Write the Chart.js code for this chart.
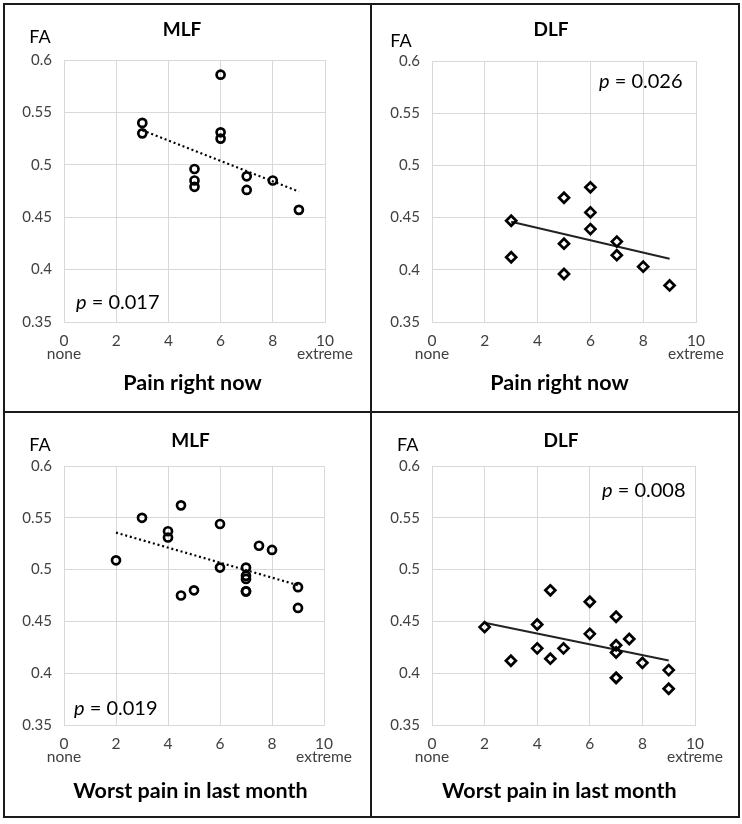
<!DOCTYPE html>
<html>
<head>
<meta charset="utf-8">
<script src="https://cdn.jsdelivr.net/npm/chart.js@4.4.1/dist/chart.umd.min.js"></script>
<style>
  body { margin: 0; background: #fff; }
  #wrap { position: relative; width: 742px; height: 824px; }
  canvas { position: absolute; }
  .rule { position: absolute; background: #1a1a1a; }
  #frame { position: absolute; left: 3px; top: 3px; width: 737px; height: 815px; border: 2px solid #1a1a1a; box-sizing: border-box; }
</style>
</head>
<body>
<div id="wrap">
  <canvas id="c1" width="371" height="412" style="left:0;top:0"></canvas>
  <canvas id="c2" width="371" height="412" style="left:371px;top:0"></canvas>
  <canvas id="c3" width="371" height="412" style="left:0;top:412px"></canvas>
  <canvas id="c4" width="371" height="412" style="left:371px;top:412px"></canvas>
  <div id="frame"></div>
  <div class="rule" style="left:370px;top:3px;width:2px;height:815px"></div>
  <div class="rule" style="left:3px;top:411px;width:737px;height:2px"></div>
</div>
<script>
// axis ticks
const xTicks = [0, 2, 4, 6, 8, 10];
const xTickText = [['0', 'none'], '2', '4', '6', '8', ['10', 'extreme']];
const yTicks = [0.35, 0.4, 0.45, 0.5, 0.55, 0.6];
const yTickText = ['0.35', '0.4', '0.45', '0.5', '0.55', '0.6'];

// Pain right now (top row)
const nowPain = [3, 3, 5, 5, 5, 6, 6, 6, 7, 7, 8, 9];
const nowMLF = [0.540, 0.530, 0.496, 0.485, 0.479, 0.586, 0.531, 0.525, 0.489, 0.476, 0.485, 0.457];
const nowDLF = [0.447, 0.412, 0.469, 0.425, 0.396, 0.479, 0.455, 0.439, 0.427, 0.414, 0.403, 0.385];
const nowTrendX = [3, 9];
const nowTrendMLF = [0.533, 0.4745];
const nowTrendDLF = [0.446, 0.4105];

// Worst pain in last month (bottom row)
const worstPain = [2, 3, 4, 4, 4.5, 4.5, 5, 6, 6, 7, 7, 7, 7, 7, 7.5, 8, 9, 9];
const worstMLF = [0.509, 0.550, 0.537, 0.531, 0.562, 0.475, 0.480, 0.544, 0.502, 0.502, 0.494, 0.491, 0.479, 0.479, 0.523, 0.519, 0.483, 0.463];
const worstDLF = [0.4445, 0.412, 0.447, 0.424, 0.480, 0.414, 0.424, 0.469, 0.438, 0.4545, 0.427, 0.420, 0.3955, 0.3955, 0.433, 0.410, 0.403, 0.385];
const worstTrendX = [2, 9];
const worstTrendMLF = [0.5357, 0.485];
const worstTrendDLF = [0.4487, 0.4123];

const FONT = 'Lato, "Open Sans", sans-serif';

function pts(xs, ys) {
  return xs.map((x, i) => ({ x: x, y: ys[i] }));
}

// draws panel title, "FA", p value and x-axis name
const panelText = {
  id: 'panelText',
  afterDraw(chart, args, o) {
    const ctx = chart.ctx;
    ctx.save();
    ctx.fillStyle = '#000';
    ctx.textBaseline = 'middle';
    ctx.textAlign = 'center';
    ctx.font = 'bold 19px ' + FONT;
    ctx.fillText(o.title, o.titlePos[0], o.titlePos[1]);
    ctx.font = '18px ' + FONT;
    ctx.fillText('FA', o.faPos[0], o.faPos[1]);
    ctx.font = 'bold 21.5px ' + FONT;
    ctx.fillText(o.xName, o.xNamePos[0], o.xNamePos[1]);
    ctx.textAlign = 'left';
    ctx.font = 'italic 20px ' + FONT;
    ctx.fillText('p', o.pPos[0], o.pPos[1]);
    const w = ctx.measureText('p').width;
    ctx.font = '20px ' + FONT;
    ctx.fillText(' = ' + o.p, o.pPos[0] + w, o.pPos[1]);
    ctx.restore();
  }
};

function makeChart(id, xs, ys, tx, ty, shape, dotted, pad, text) {
  const ctx = document.getElementById(id).getContext('2d');
  return new Chart(ctx, {
    type: 'scatter',
    data: {
      datasets: [
        {
          data: pts(xs, ys),
          pointStyle: shape,
          pointRadius: shape === 'circle' ? 4 : 5,
          borderColor: '#000',
          backgroundColor: 'rgba(0,0,0,0)',
          pointBorderWidth: 2.7
        },
        {
          data: pts(tx, ty),
          showLine: true,
          pointRadius: 0,
          borderColor: dotted ? '#000' : '#222',
          borderWidth: dotted ? 2.2 : 2,
          borderDash: dotted ? [2, 2.8] : []
        }
      ]
    },
    options: {
      responsive: false,
      animation: false,
      layout: { padding: pad },
      plugins: {
        legend: { display: false },
        tooltip: { enabled: false },
        panelText: text
      },
      scales: {
        x: {
          type: 'linear',
          min: 0, max: 10,
          afterFit: s => { s.height = 40; },
          afterBuildTicks: s => { s.ticks = xTicks.map(v => ({ value: v })); },
          grid: { color: '#d9d9d9', drawTicks: false },
          border: { color: '#d9d9d9' },
          ticks: {
            padding: 12,
            autoSkip: false,
            maxRotation: 0,
            color: '#404040',
            font: { family: FONT, size: 15.5, lineHeight: 0.85 },
            callback: (v, i) => xTickText[i]
          }
        },
        y: {
          min: 0.35, max: 0.6,
          afterFit: s => { s.width = 50; },
          afterBuildTicks: s => { s.ticks = yTicks.map(v => ({ value: v })); },
          grid: { color: '#d9d9d9', drawTicks: false },
          border: { color: '#d9d9d9' },
          ticks: {
            padding: 12,
            color: '#404040',
            font: { family: FONT, size: 15 },
            callback: (v, i) => yTickText[i]
          }
        }
      }
    },
    plugins: [panelText]
  });
}

makeChart('c1', nowPain, nowMLF, nowTrendX, nowTrendMLF, 'circle', true,
  { left: 14, right: 46, top: 60, bottom: 50 },
  { title: 'MLF', titlePos: [182, 30], faPos: [40, 37.5], p: '0.017', pPos: [76, 303],
    xName: 'Pain right now', xNamePos: [192.5, 383] });

makeChart('c2', nowPain, nowDLF, nowTrendX, nowTrendDLF, 'rectRot', false,
  { left: 11, right: 46, top: 61, bottom: 50 },
  { title: 'DLF', titlePos: [180, 30], faPos: [30, 40.7], p: '0.026', pPos: [228, 82],
    xName: 'Pain right now', xNamePos: [188.5, 383] });

makeChart('c3', worstPain, worstMLF, worstTrendX, worstTrendMLF, 'circle', true,
  { left: 14, right: 47, top: 54, bottom: 59 },
  { title: 'MLF', titlePos: [190.5, 29.3], faPos: [40, 33.3], p: '0.019', pPos: [74, 296.7],
    xName: 'Worst pain in last month', xNamePos: [190.5, 379] });

makeChart('c4', worstPain, worstDLF, worstTrendX, worstTrendDLF, 'rectRot', false,
  { left: 11, right: 47, top: 54, bottom: 59 },
  { title: 'DLF', titlePos: [190, 29.3], faPos: [36.7, 33.3], p: '0.008', pPos: [231, 79],
    xName: 'Worst pain in last month', xNamePos: [188.3, 379] });
</script>
</body>
</html>
